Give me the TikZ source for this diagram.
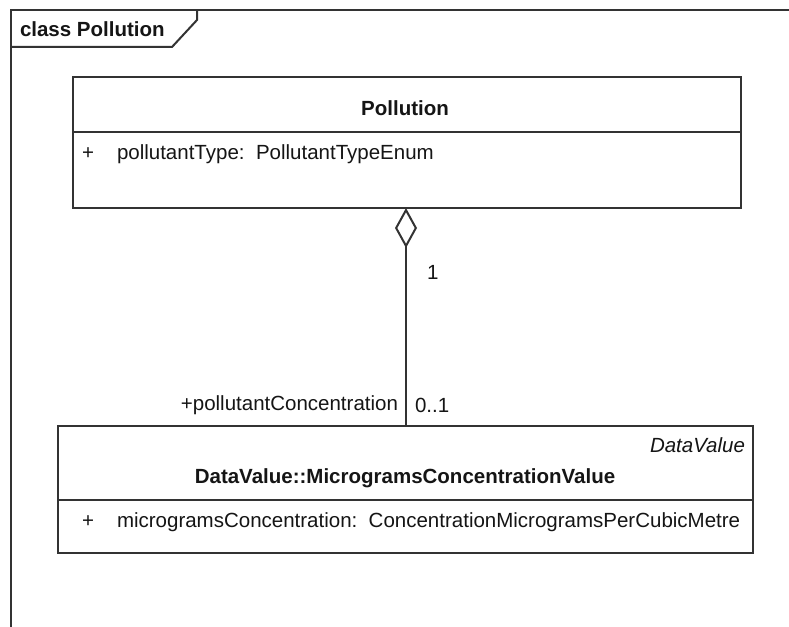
\documentclass[tikz,border=0pt]{standalone}
\usepackage{fontspec}
\setmainfont{Liberation Sans}
\usetikzlibrary{arrows.meta}
\definecolor{umlline}{HTML}{333333}
\definecolor{umltext}{HTML}{151515}
\begin{document}
\begin{tikzpicture}[x=1pt,y=-1pt,
  every node/.style={inner sep=0pt,outer sep=0pt,text=umltext,font=\fontsize{20.5}{24}\selectfont},
  umlbox/.style={draw=umlline,line width=2pt,fill=white,anchor=north west},
  frameline/.style={draw=umlline,line width=2pt},
  title/.style={font=\fontsize{20.5}{24}\selectfont\bfseries},
  stereo/.style={font=\fontsize{20.5}{24}\selectfont\itshape},
  attr/.style={anchor=west},
  mult/.style={}
]
\useasboundingbox (0,0) rectangle (789,626);
\clip (0,0) rectangle (789,626);
\fill[white] (0,0) rectangle (789,626);

% diagram frame with its name tab
\draw[frameline] (11,627) -- (11,10) -- (790,10);
\draw[frameline] (11,47) -- (172,47) -- (197,20) -- (197,10);
\node[title,anchor=west] (frametitle) at (20,29) {class Pollution};

% class Pollution
\node[umlbox,minimum width=668pt,minimum height=131pt] (pol) at (73,77) {};
\draw[frameline] (73,132) -- (741,132);
\node[title] (poltitle) at (405,108) {Pollution};
\node (polvis) at (88,154) {+};
\node[attr] (polattr) at (117,154) {pollutantType:\ \ PollutantTypeEnum};

% class DataValue::MicrogramsConcentrationValue
\node[umlbox,minimum width=695pt,minimum height=127pt] (mcv) at (58,426) {};
\draw[frameline] (58,500) -- (753,500);
\node[stereo,anchor=east] (mcvstereo) at (745,445) {DataValue};
\node[title] (mcvtitle) at (405,478) {DataValue::MicrogramsConcentrationValue};
\node (mcvvis) at (88,522) {+};
\node[attr] (mcvattr) at (117,522) {microgramsConcentration:\ \ ConcentrationMicrogramsPerCubicMetre};

% aggregation between the two classes
\coordinate (aggtop) at (406,208);
\coordinate (aggbot) at (406,426);
\draw[umlline,line width=2pt,{Diamond[open,length=40pt,width=22pt,line width=2pt]}-] (aggtop) -- (aggbot);
\node[mult,anchor=west] (m1) at (427,272) {1};
\node[anchor=east] (role) at (398,405) {+pollutantConcentration};
\node[mult,anchor=west] (m01) at (415,405) {0..1};
\end{tikzpicture}
\end{document}
